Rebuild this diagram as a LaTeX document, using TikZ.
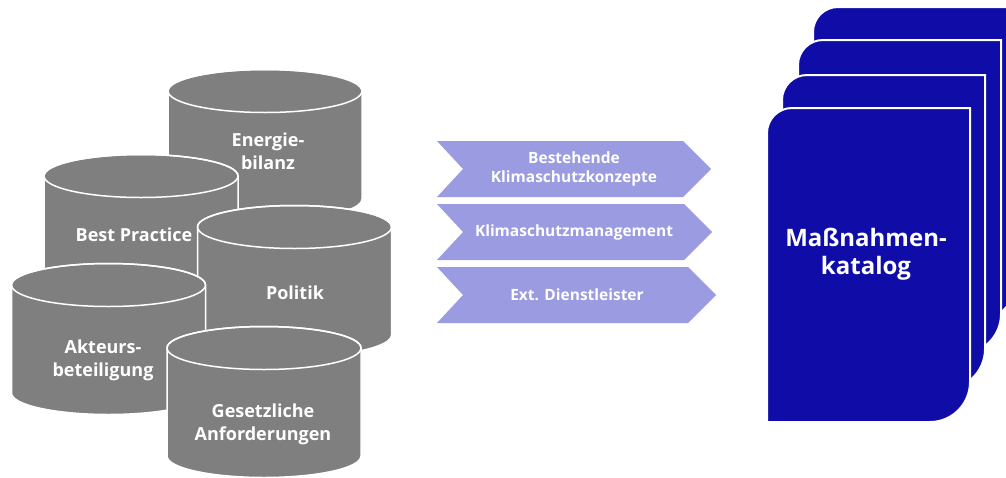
\documentclass[tikz,border=0pt]{standalone}
\usepackage{fontspec}
\setmainfont{Open Sans}
\definecolor{drumgray}{RGB}{127,127,127}
\definecolor{chevlilac}{RGB}{155,155,226}
\definecolor{catblue}{RGB}{16,12,168}

% cylinder: centre x, top-ellipse centre y (from top)
\newcommand\drum[2]{%
  \fill[drumgray, draw=white, line width=1.5pt]
    (#1-97,-#2) -- (#1-97,-#2-108)
    arc[start angle=180, end angle=360, x radius=97, y radius=21.5]
    -- (#1+97,-#2)
    arc[start angle=0, end angle=180, x radius=97, y radius=21.5] -- cycle;
  \draw[white, line width=1.5pt] (#1,-#2) ellipse[x radius=97, y radius=21.5];
}
% chevron: left x, top y, right shoulder x, height
\newcommand\chev[4]{%
  \fill[chevlilac] (#1,-#2) -- (#3,-#2) -- (#3+28,-#2-#4/2) -- (#3,-#2-#4)
    -- (#1,-#2-#4) -- (#1+26,-#2-#4/2) -- cycle;
}
% catalogue sheet: left x, top y
\newcommand\sheet[2]{%
  \fill[catblue, draw=white, line width=2pt]
    (#1,-#2-25) arc[start angle=180, end angle=90, radius=25]
    -- (#1+203,-#2) -- (#1+203,-#2-274)
    arc[start angle=0, end angle=-90, radius=40]
    -- (#1,-#2-314) -- cycle;
}

\tikzset{
  drumtext/.style={text=white, align=center, font=\bfseries\fontsize{18}{23}\selectfont},
  chevtext/.style={text=white, align=center, font=\bfseries\fontsize{15.5}{19}\selectfont},
  cattext/.style={text=white, align=center, font=\bfseries\fontsize{24}{28}\selectfont}
}

\begin{document}
\begin{tikzpicture}[x=1pt, y=1pt]
\useasboundingbox (0,0) rectangle (1006,-477);
\clip (0,0) rectangle (1006,-477);
\fill[white] (0,0) rectangle (1006,-477);

% data sources
\drum{265}{91}
\drum{141}{176}
\drum{294.5}{227}
\drum{108.5}{285}
\drum{264}{348}
\node[drumtext] (energie) at (268,-151) {Energie-\\bilanz};
\node[drumtext] (bestpractice) at (134,-235) {Best Practice};
\node[drumtext] (politik) at (295,-293) {Politik};
\node[drumtext] (akteure) at (103,-360) {Akteurs-\\beteiligung};
\node[drumtext] (gesetz) at (263,-424) {Gesetzliche\\Anforderungen};

% contributors
\chev{437}{141}{683}{56}
\chev{437}{204}{684}{56}
\chev{437}{267}{688}{56}
\node[chevtext] (konzepte) at (574,-169) {Bestehende\\Klimaschutzkonzepte};
\node[chevtext] (management) at (574,-232) {Klimaschutzmanagement};
\node[chevtext] (dienstleister) at (577,-295) {Ext. Dienstleister};

% stack of catalogue sheets, back to front
\sheet{813}{7}
\sheet{798}{40}
\sheet{782}{75}
\sheet{767}{108}
\node[cattext] (katalog) at (866,-254) {Maßnahmen-\\katalog};
\end{tikzpicture}
\end{document}
